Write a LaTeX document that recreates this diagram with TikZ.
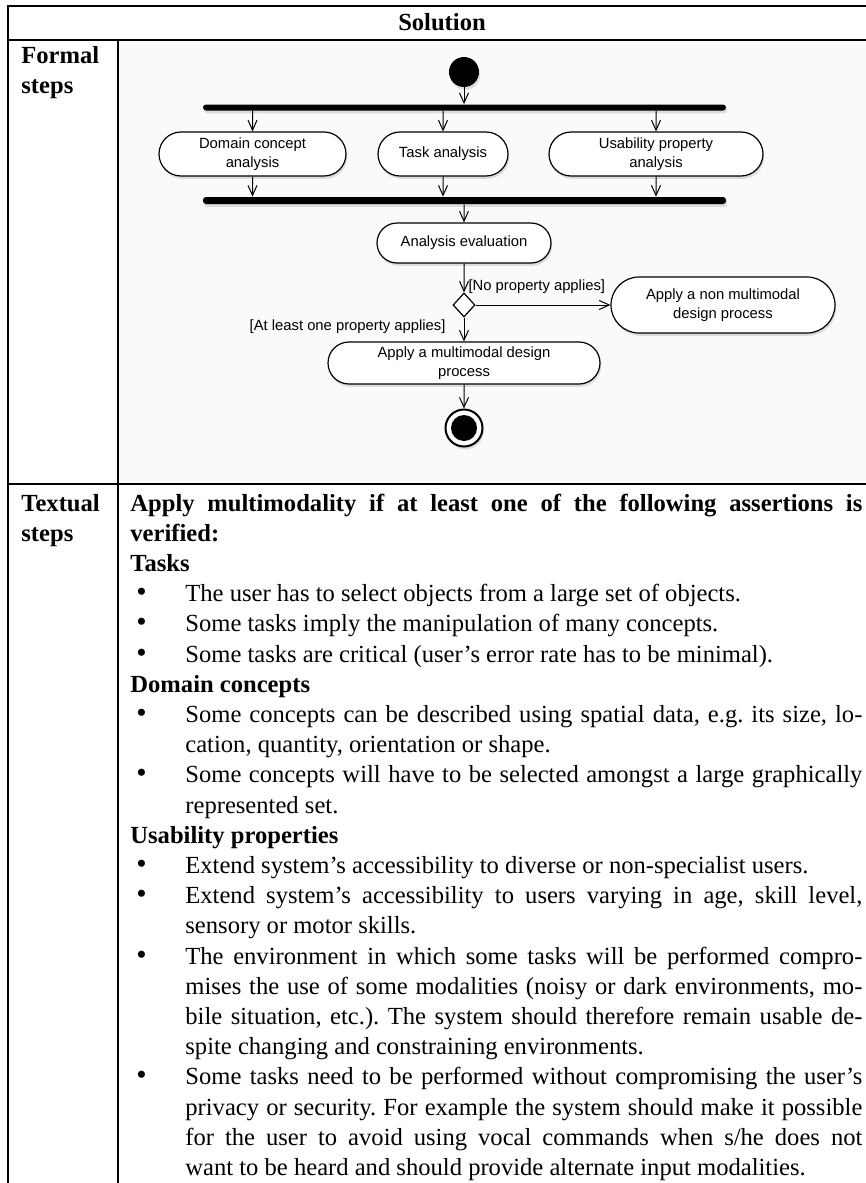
\documentclass[tikz,border=0pt]{standalone}
\usepackage{fontspec}
\setmainfont{Liberation Serif}
\newfontfamily\diagfont{Liberation Sans}
\usepackage{graphicx}
\usepackage{tikz}
\usetikzlibrary{arrows.meta,shapes.misc,shapes.geometric,shadows,positioning,calc}
\frenchspacing

% lines of the lower cell
\newcommand{\bulletmark}{\makebox[27.5pt][l]{\hspace{3pt}\scalebox{1.2}{\textbullet}}}
\newcommand{\fullline}[1]{\makebox[366pt][s]{#1}\\}
\newcommand{\itemline}[1]{\bulletmark\makebox[338.5pt][s]{#1}\\}
\newcommand{\itemlast}[1]{\bulletmark#1\\}
\newcommand{\contline}[1]{\hspace*{27.5pt}\makebox[338.5pt][s]{#1}\\}
\newcommand{\contlast}[1]{\hspace*{27.5pt}#1}

\begin{document}
\begin{tikzpicture}[
    x=0.5pt, y=-0.5pt,
    act/.style={rounded rectangle, draw, line width=0.6pt, fill=white, inner sep=1pt, align=center,
        font=\diagfont\fontsize{7.4}{9.5}\selectfont,
        drop shadow={shadow xshift=0.6pt, shadow yshift=-1.4pt, opacity=0.25}},
    bar/.style={fill=black, inner sep=0pt, minimum width=261.5pt, rounded corners=1.5pt,
        drop shadow={shadow xshift=0.6pt, shadow yshift=-1.4pt, opacity=0.25}},
    guard/.style={font=\diagfont\fontsize{7.4}{9.5}\selectfont, inner sep=0pt},
    flow/.style={-{Straight Barb[length=5pt, width=4.5pt]}, line width=0.5pt},
    rule/.style={line width=1pt},
    cell/.style={font=\fontsize{12.3}{15.1}\selectfont, inner sep=0pt, anchor=base west}
]
    \useasboundingbox (0,0) rectangle (866,1183);

    % table
    \fill[black!2] (118,40) rectangle (866,484);
    \draw[rule] (866,6) -- (8,6) -- (8,1183);
    \draw[rule] (8,40) -- (866,40);
    \draw[rule] (118,40) -- (118,1183);
    \draw[rule] (8,484) -- (866,484);

    \node[cell, anchor=base, font=\fontsize{12.3}{15.1}\selectfont\bfseries] (title) at (442,31) {Solution};
    \node[cell] (formal) at (21,63) {\parbox[t]{90pt}{\bfseries Formal\\steps}};
    \node[cell] (textual) at (21,511) {\parbox[t]{90pt}{\bfseries Textual\\steps}};

    % activity diagram
    \node[circle, fill=black, minimum size=15pt, inner sep=0pt,
        drop shadow={shadow xshift=0.6pt, shadow yshift=-1.4pt, opacity=0.25}] (init) at (464,72) {};
    \node[bar, minimum height=3pt] (fork) at (464.5,107.5) {};
    \node[act, minimum width=95.5pt, minimum height=22pt] (domain) at (252.5,154) {Domain concept\\analysis};
    \node[act, minimum width=67pt, minimum height=22pt] (task) at (443,154) {Task analysis};
    \node[act, minimum width=109pt, minimum height=22pt] (usab) at (656,154) {Usability property\\analysis};
    \node[bar, minimum height=3.5pt] (join) at (464.5,200.5) {};
    \node[act, minimum width=89pt, minimum height=20pt] (eval) at (464,243) {Analysis evaluation};
    \node[diamond, draw, line width=0.6pt, fill=white, minimum width=11pt, minimum height=12pt, inner sep=0pt] (decide) at (464,305) {};
    \node[act, minimum width=114pt, minimum height=28pt] (nonmm) at (723,305) {Apply a non multimodal\\design process};
    \node[act, minimum width=138pt, minimum height=21pt] (mm) at (464,363) {Apply a multimodal design\\process};
    \node[circle, draw, line width=1pt, fill=white, minimum size=18.5pt, inner sep=0pt,
        drop shadow={shadow xshift=0.6pt, shadow yshift=-1.4pt, opacity=0.25},
        path picture={\fill[black] (path picture bounding box.center) circle (6.5pt);}] (final) at (464,428) {};

    \draw[flow] (init) -- (init |- fork.north);
    \draw[flow] (domain |- fork.south) -- (domain);
    \draw[flow] (task |- fork.south) -- (task);
    \draw[flow] (usab |- fork.south) -- (usab);
    \draw[flow] (domain) -- (domain |- join.north);
    \draw[flow] (task) -- (task |- join.north);
    \draw[flow] (usab) -- (usab |- join.north);
    \draw[flow] (join.south -| eval) -- (eval);
    \draw[flow] (eval) -- node[guard, pos=0.8, anchor=west, xshift=2pt] (noapp) {[No property applies]} (decide);
    \draw[flow] (decide) -- (nonmm);
    \draw[flow] (decide) -- node[guard, pos=0.4, anchor=east, xshift=-9pt] (oneapp) {[At least one property applies]} (mm);
    \draw[flow] (mm) -- (final);

    % textual steps
    \node[cell] (assert) at (130,511) {\parbox[t]{366pt}{%
        \fullline{\textbf{Apply multimodality if at least one of the following assertions is}}
        \textbf{verified:}\\
        \textbf{Tasks}\\
        \itemlast{The user has to select objects from a large set of objects.}
        \itemlast{Some tasks imply the manipulation of many concepts.}
        \itemlast{Some tasks are critical (user's error rate has to be minimal).}
        \textbf{Domain concepts}\\
        \itemline{Some concepts can be described using spatial data, e.g. its size, lo-}
        \contlast{cation, quantity, orientation or shape.}\\
        \itemline{Some concepts will have to be selected amongst a large graphically}
        \contlast{represented set.}\\
        \textbf{Usability properties}\\
        \itemlast{Extend system's accessibility to diverse or non-specialist users.}
        \itemline{Extend system's accessibility to users varying in age, skill level,}
        \contlast{sensory or motor skills.}\\
        \itemline{The environment in which some tasks will be performed compro-}
        \contline{mises the use of some modalities (noisy or dark environments, mo-}
        \contline{bile situation, etc.). The system should therefore remain usable de-}
        \contlast{spite changing and constraining environments.}\\
        \itemline{Some tasks need to be performed without compromising the user's}
        \contline{privacy or security. For example the system should make it possible}
        \contline{for the user to avoid using vocal commands when s/he does not}
        \contlast{want to be heard and should provide alternate input modalities.}}};
\end{tikzpicture}
\end{document}
